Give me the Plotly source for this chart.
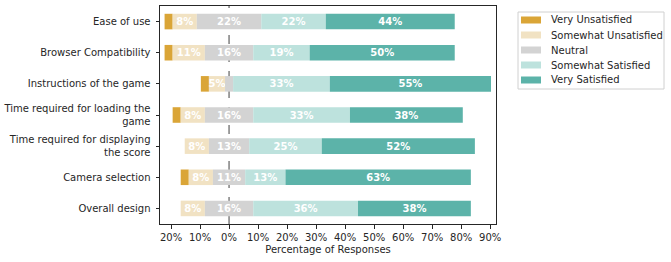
import plotly.graph_objects as go

categories = ["Ease of use", "Browser Compatibility", "Instructions of the game",
              "Time required for loading the<br>game",
              "Time required for displaying<br>the score",
              "Camera selection", "Overall design"]
n_responses = 36
very_unsatisfied = [1, 1, 1, 1, 0, 1, 0]
somewhat_unsatisfied = [3, 4, 2, 3, 3, 3, 3]
neutral = [8, 6, 1, 6, 5, 4, 6]
somewhat_satisfied = [8, 7, 12, 12, 9, 5, 13]
very_satisfied = [16, 18, 20, 14, 19, 23, 14]
series_names = ["Very Unsatisfied", "Somewhat Unsatisfied", "Neutral",
                "Somewhat Satisfied", "Very Satisfied"]
colors = ["#DAA537", "#F1E2C3", "#D3D3D3", "#BDE2DD", "#5CB3A9"]
tick_vals = [-20, -10, 0, 10, 20, 30, 40, 50, 60, 70, 80, 90]
tick_text = ["20%", "10%", "0%", "10%", "20%", "30%", "40%", "50%", "60%", "70%", "80%", "90%"]

series = [very_unsatisfied, somewhat_unsatisfied, neutral, somewhat_satisfied, very_satisfied]
pcts = [[v / n_responses * 100 for v in s] for s in series]

# diverging offset: neutral centred on zero
offsets = [-(pcts[0][i] + pcts[1][i] + pcts[2][i] / 2) for i in range(len(categories))]

W, H = 671, 262
L, R, T, B = 160, 175, 6, 38
pw, ph = W - L - R, H - T - B


def px_x(p):
    return (p - L) / pw


def px_y(p):
    return (H - B - p) / ph


fig = go.Figure()
cum = list(offsets)
for k, (name, col, vals) in enumerate(zip(series_names, colors, pcts)):
    texts = []
    for v in vals:
        if k == 0 or v < 4:
            texts.append("")
        else:
            texts.append(f"{int(v)}%")
    fig.add_trace(go.Bar(
        y=categories, x=vals, base=list(cum), orientation="h", name=name,
        marker=dict(color=col, line=dict(width=0)),
        text=texts, textposition="inside", insidetextanchor="middle",
        textangle=0, constraintext="none",
        textfont=dict(color="white", size=10, family="DejaVu Sans", weight="bold"),
        hoverinfo="skip", showlegend=False,
    ))
    cum = [c + v for c, v in zip(cum, vals)]

fig.add_shape(type="line", xref="x", yref="paper", x0=0, x1=0, y0=0, y1=1,
              line=dict(color="#808080", width=1.5, dash="dash"), layer="below")

# legend box (manual, matching the reference's patch handles)
x0, x1, y0, y1 = px_x(518), px_x(664), px_y(89), px_y(12)
fig.add_shape(type="rect", xref="paper", yref="paper", x0=x0, x1=x1, y0=y0, y1=y1,
              line=dict(color="#D0D0D0", width=1), fillcolor="white", layer="above")
for i, (name, col) in enumerate(zip(series_names, colors)):
    cy = 20 + i * 15
    fig.add_shape(type="rect", xref="paper", yref="paper",
                  x0=px_x(521), x1=px_x(541), y0=px_y(cy + 3.5), y1=px_y(cy - 3.5),
                  line=dict(width=0), fillcolor=col, layer="above")
    fig.add_annotation(xref="paper", yref="paper", x=px_x(549), y=px_y(cy),
                       xanchor="left", yanchor="middle", text=name, showarrow=False,
                       font=dict(size=10, color="#262626"))

fig.update_layout(
    width=W, height=H,
    margin=dict(l=L, r=R, t=T, b=B, autoexpand=False),
    barmode="overlay", bargap=0.5,
    plot_bgcolor="white", paper_bgcolor="white",
    font=dict(family="DejaVu Sans", size=10, color="#262626"),
    showlegend=False,
    xaxis=dict(range=[-23.8, 92], tickvals=tick_vals, ticktext=tick_text,
               showgrid=False, zeroline=False, showline=True, mirror=True,
               linecolor="#262626", linewidth=1, ticks="outside", ticklen=3.5,
               tickcolor="#262626", automargin=False,
               title=dict(text="Percentage of Responses", standoff=4,
                          font=dict(size=10))),
    yaxis=dict(autorange="reversed", showgrid=False, zeroline=False,
               showline=True, mirror=True, linecolor="#262626", linewidth=1,
               ticks="outside", ticklen=3.5, tickcolor="#262626", automargin=False,
               ticklabelstandoff=3),
)

fig.write_html("out.html", config={"displayModeBar": False, "staticPlot": True},
               post_script="document.body.style.margin='0';document.body.style.overflow='hidden';")
